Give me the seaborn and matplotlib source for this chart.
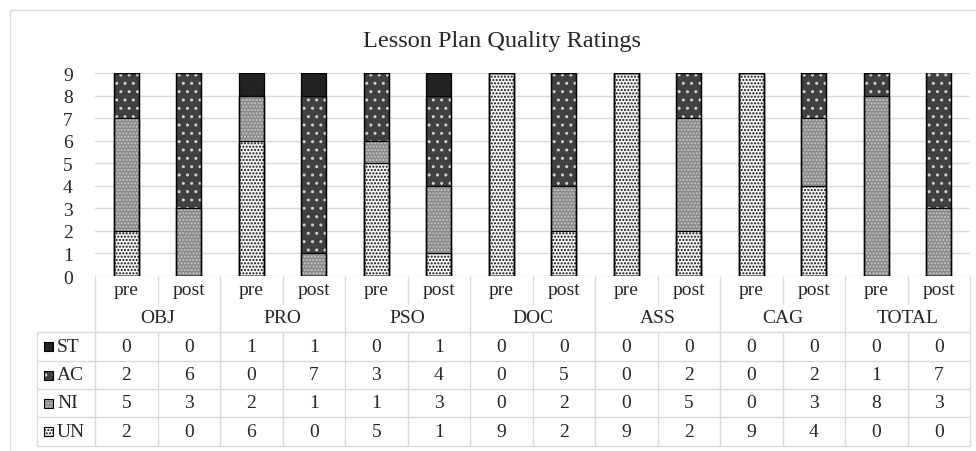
import numpy as np
import pandas as pd
import matplotlib
matplotlib.use("Agg")
import matplotlib.pyplot as plt
from matplotlib.patches import Rectangle
import seaborn as sns

# ==================== data ====================
groups = ["OBJ", "PRO", "PSO", "DOC", "ASS", "CAG", "TOTAL"]
phases = ["pre", "post"]
series = ["ST", "AC", "NI", "UN"]  # top to bottom, as in the table

st = [0, 0, 1, 1, 0, 1, 0, 0, 0, 0, 0, 0, 0, 0]
ac = [2, 6, 0, 7, 3, 4, 0, 5, 0, 2, 0, 2, 1, 7]
ni = [5, 3, 2, 1, 1, 3, 0, 2, 0, 5, 0, 3, 8, 3]
un = [2, 0, 6, 0, 5, 1, 9, 2, 9, 2, 9, 4, 0, 0]

y_ticks = list(range(0, 10))
title = "Lesson Plan Quality Ratings"

# ==================== styles ====================
styles = {
    "UN": dict(fill="#f4f4f4", dots="#111111", hatch="....."),
    "NI": dict(fill="#8a8a8a", dots="#c8c8c8", hatch="....."),
    "AC": dict(fill="#404040", dots="#d0d0d0", hatch=".."),
    "ST": dict(fill="#222222", dots="#222222", hatch=None),
}
grid_col = "#d9d9d9"

sns.set_theme(style="white")
plt.rcParams["font.family"] = ["Liberation Serif", "DejaVu Serif"]
plt.rcParams["hatch.linewidth"] = 1.0

W, H = 976, 452
fig = plt.figure(figsize=(W / 100, H / 100), dpi=100)

# pixel layout
ax_l, ax_r, ax_t, ax_b = 95, 970, 74, 277
ax = fig.add_axes([ax_l / W, 1 - ax_b / H, (ax_r - ax_l) / W, (ax_b - ax_t) / H])

cols = [f"{g} {p}" for g in groups for p in phases]
df = pd.DataFrame({"col": cols, "ST": st, "AC": ac, "NI": ni, "UN": un})

# cumulative stacks drawn from the tallest down so each layer overlays the previous
order_bottom_up = ["UN", "NI", "AC", "ST"]
cum = df[order_bottom_up].cumsum(axis=1)
for s in reversed(order_bottom_up):
    stl = styles[s]
    sns.barplot(x=df["col"], y=cum[s], order=cols, width=0.4, saturation=1,
                color=stl["fill"], edgecolor=stl["dots"], linewidth=0,
                hatch=stl["hatch"], ax=ax, zorder=2)
    sns.barplot(x=df["col"], y=cum[s], order=cols, width=0.4, saturation=1,
                fill=False, color="black", edgecolor="black", linewidth=0.9,
                ax=ax, zorder=3)

fs = 14

ax.set_xlim(-0.5, len(cols) - 0.5)
ax.set_ylim(0, 9)
ax.set_yticks(y_ticks)
ax.set_yticklabels([str(t) for t in y_ticks], fontsize=fs)
ax.set_xticks([])
ax.set_xlabel("")
ax.set_ylabel("")
ax.tick_params(axis="y", length=0, pad=16)
ax.yaxis.grid(True, color=grid_col, linewidth=1)
ax.set_axisbelow(True)
for sp in ax.spines.values():
    sp.set_visible(False)

fig.text(502 / W, 1 - 41 / H, title, ha="center", va="center", fontsize=17.5)

# ==================== data table ====================
tab = fig.add_axes([0, 0, 1, 1], zorder=-1)
tab.set_xlim(0, W)
tab.set_ylim(H, 0)
tab.axis("off")

# outer chart border
tab.add_patch(Rectangle((10, 11), 1000, 1000, fill=False, edgecolor=grid_col, linewidth=1))

colw = (ax_r - ax_l) / len(cols)
row_hdr = (277, 305)
row_grp = (305, 333)
row_edges = [333, 362, 390, 418, 447]
key_l = 37

def lin(x0, x1, y0, y1):
    tab.plot([x0, x1], [y0, y1], color=grid_col, linewidth=1, solid_capstyle="butt")

# vertical lines in the header
for k in range(len(cols) + 1):
    x = ax_l + k * colw
    if k % 2 == 0:
        lin(x, x, row_hdr[0], row_edges[-1])
    else:
        lin(x, x, row_hdr[0], row_hdr[1])
        lin(x, x, row_edges[0], row_edges[-1])
lin(key_l, key_l, row_edges[0], row_edges[-1])
for y in row_edges:
    lin(key_l, ax_r, y, y)

for k, c in enumerate(cols):
    x = ax_l + (k + 0.5) * colw
    tab.text(x, sum(row_hdr) / 2, c.split()[1], ha="center", va="center", fontsize=fs)
for g_i, g in enumerate(groups):
    x = ax_l + (2 * g_i + 1) * colw
    tab.text(x, sum(row_grp) / 2, g, ha="center", va="center", fontsize=fs)

for r, s in enumerate(series):
    yc = (row_edges[r] + row_edges[r + 1]) / 2
    for k, v in enumerate(df[s]):
        tab.text(ax_l + (k + 0.5) * colw, yc, str(v), ha="center", va="center", fontsize=fs)
    stl = styles[s]
    tab.add_patch(Rectangle((44, yc - 4.5), 9, 9, facecolor=stl["fill"], edgecolor=stl["dots"],
                            hatch=stl["hatch"], linewidth=0))
    tab.add_patch(Rectangle((44, yc - 4.5), 9, 9, fill=False, edgecolor="black", linewidth=0.8))
    tab.text(57, yc, s, ha="left", va="center", fontsize=fs)

fig.savefig("out.png", dpi=100)
